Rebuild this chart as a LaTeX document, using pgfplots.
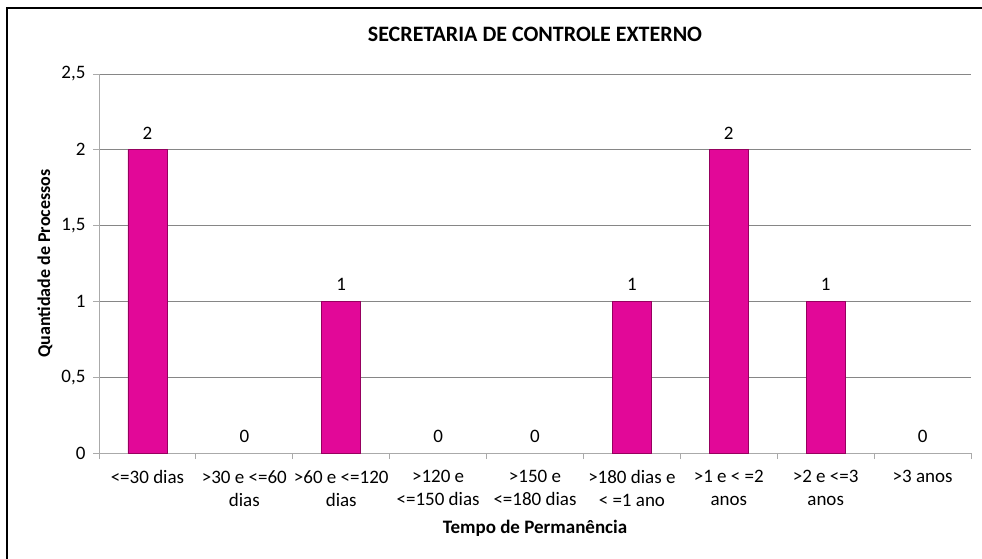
\documentclass[border=0pt]{standalone}
\usepackage{fontspec}
\setmainfont{Carlito}
\usepackage{pgfplots}
\usepackage{pgfplotstable}
\pgfplotsset{compat=1.18}
\definecolor{barfill}{RGB}{226,8,152}
\definecolor{baredge}{RGB}{150,0,95}
\definecolor{gridc}{RGB}{134,134,134}
\definecolor{axc}{RGB}{170,170,170}
\pgfplotstableread{
x y
0 2
1 0
2 1
3 0
4 0
5 1
6 2
7 1
8 0
}\datatable
\begin{document}
\begin{tikzpicture}[x=1bp,y=1bp]
\useasboundingbox (0,0) rectangle (982,-559);
\draw[black, line width=1.5bp] (7,-600) -- (7,-8) -- (1000,-8);
\begin{axis}[
  at={(99bp,-453bp)}, anchor=south west,
  scale only axis, width=872bp, height=379bp,
  xmin=-0.5, xmax=8.5, ymin=0, ymax=2.5,
  ytick={0,0.5,1,1.5,2,2.5},
  xtick={0,1,2,3,4,5,6,7,8},
  xticklabels={{<=30 dias},{>30 e <=60\\dias},{>60 e <=120\\dias},{>120 e\\<=150 dias},{>150 e\\<=180 dias},{>180 dias e\\< =1 ano},{>1 e < =2\\anos},{>2 e <=3\\anos},{>3 anos}},
  minor xtick={-0.5,0.5,...,8.5},
  axis lines*=left,
  axis line style={draw=axc, line width=0.8bp},
  ymajorgrids, grid style={draw=gridc, line width=0.8bp},
  major x tick style={draw=none},
  minor x tick style={draw=axc, line width=0.8bp},
  major y tick style={draw=axc, line width=0.8bp},
  tick align=outside,
  major tick length=6bp, minor tick length=6bp,
  ytick pos=left, xtick pos=bottom,
  /pgf/number format/assume math mode=true,
  /pgf/number format/use comma,
  yticklabel style={font=\fontsize{19bp}{22bp}\selectfont, xshift=-4bp},
  xticklabel style={font=\fontsize{19bp}{23bp}\selectfont, align=center, anchor=north, yshift=-8bp},
  ylabel={Quantidade de Processos},
  ylabel style={at={(rel axis cs:0,0.5)}, yshift=54bp, anchor=center, font=\fontsize{18bp}{21bp}\selectfont\bfseries},
  xlabel={Tempo de Permanência},
  xlabel style={at={(rel axis cs:0.5,0)}, yshift=-75bp, anchor=center, font=\fontsize{19bp}{22bp}\selectfont\bfseries},
  title={SECRETARIA DE CONTROLE EXTERNO},
  title style={at={(rel axis cs:0.5,1)}, yshift=34bp, anchor=center, font=\fontsize{22bp}{25bp}\selectfont\bfseries},
  ybar, bar width=39bp, bar shift=0pt,
  unbounded coords=discard,
]
\addplot[fill=barfill, draw=baredge, line width=0.8bp,
  y filter/.expression={y==0 ? nan : y}] table[x=x, y=y] {\datatable};
\addplot[draw=none, fill=none,
  nodes near coords,
  nodes near coords style={font=\fontsize{19bp}{22bp}\selectfont, /pgf/number format/assume math mode=true, anchor=south, yshift=7bp, text=black}] table[x=x, y=y] {\datatable};
\end{axis}
\end{tikzpicture}
\end{document}
